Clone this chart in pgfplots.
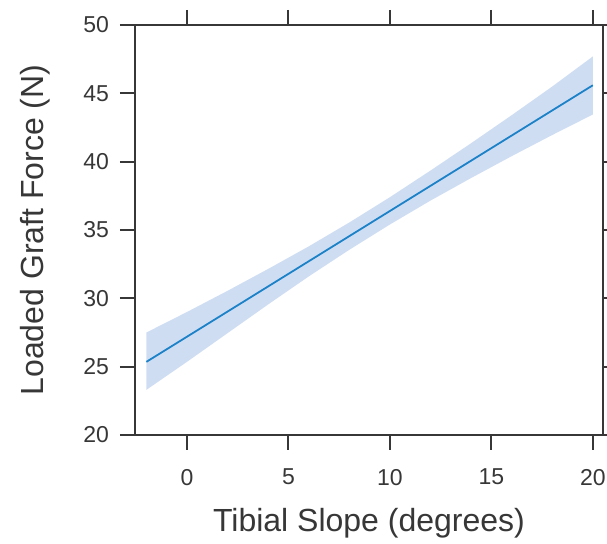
\documentclass[border=0pt]{standalone}
\usepackage{pgfplots}
\pgfplotsset{compat=1.18}
\usepgfplotslibrary{fillbetween}
\usepackage{fontspec}
\setmainfont{Liberation Sans}
\definecolor{bandblue}{RGB}{207,221,243}
\definecolor{lineblue}{RGB}{28,130,200}
\definecolor{axgray}{RGB}{55,55,55}
\begin{document}
\begin{tikzpicture}
\begin{axis}[
    name=ax, scale only axis, width=234pt, height=205pt,
    xmin=-2.56, xmax=20.5, ymin=20, ymax=50,
    xtick={0,5,10,15,20}, ytick={20,25,30,35,40,45,50},
    tick align=outside, major tick length=7.5pt,
    tick style={axgray, line width=1pt},
    axis line style={axgray, line width=1pt},
    tick label style={font=\fontsize{11.5}{12}\selectfont, text=axgray},
    xticklabel style={yshift=-6pt},
    yticklabel style={xshift=-2pt},
    /pgf/number format/assume math mode=true,
    xlabel={Tibial Slope (degrees)}, ylabel={Loaded Graft Force (N)},
    label style={font=\fontsize{16}{18}\selectfont, text=axgray},
    xlabel style={at={(axis description cs:0.5,-0.2146)}, anchor=center},
    ylabel style={at={(axis description cs:-0.2137,0.5)}, anchor=center},
]
% confidence band
\addplot[name path=up, draw=none] coordinates {
(-2,27.50) (0,29.00) (2,30.55) (4,32.15) (6,33.80) (8,35.55)
(10,37.40) (12,39.35) (14,41.35) (16,43.40) (18,45.50) (20,47.70)};
\addplot[name path=lo, draw=none] coordinates {
(-2,23.30) (0,25.35) (2,27.45) (4,29.55) (6,31.60) (8,33.55)
(10,35.40) (12,37.15) (14,38.80) (16,40.40) (18,41.95) (20,43.45)};
\addplot[bandblue] fill between[of=up and lo];
% fitted line
\addplot[lineblue, line width=0.9pt] coordinates {(-2,25.35) (20,45.59)};
\end{axis}
\pgfresetboundingbox
\path[use as bounding box] ([xshift=-67.5pt,yshift=-54.5pt]ax.south west) rectangle ([xshift=2pt,yshift=12.5pt]ax.north east);
\end{tikzpicture}
\end{document}
